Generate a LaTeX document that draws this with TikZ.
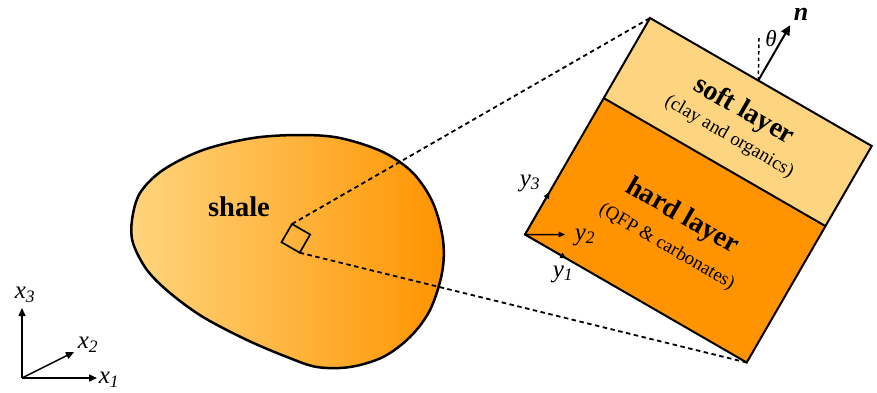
\documentclass[tikz,border=0pt]{standalone}
\usepackage{fontspec}
\setmainfont{Liberation Serif}
\usetikzlibrary{arrows.meta}
\definecolor{softc}{HTML}{FDD581}
\definecolor{hardc}{HTML}{FF9300}
\definecolor{blobl}{HTML}{FFD57E}
\definecolor{blobr}{HTML}{FF9400}
\newcommand\axlab[2]{#1\textsubscript{#2}}
\begin{document}
\begin{tikzpicture}[x=1pt,y=-1pt,
  axis/.style={line width=1.5pt,-{Triangle[length=8pt,width=7pt]}},
  dashline/.style={line width=1.8pt,dash pattern=on 4.5pt off 3.5pt},
  lbl/.style={font=\fontsize{25}{25}\selectfont\itshape, inner sep=0pt},
  title/.style={font=\fontsize{28}{28}\selectfont\bfseries, inner sep=0pt, transform shape},
  subt/.style={font=\fontsize{19}{19}\selectfont, inner sep=0pt, transform shape}]
\useasboundingbox (0,0) rectangle (877,392);

% shale body
\draw[line width=2.5pt, left color=blobl, right color=blobr]
  plot[smooth cycle, tension=0.55] coordinates {(300,135) (340,138) (383,152) (413,173) (433,203) (443,240) (442,273) (430,310) (410,337) (383,357) (350,367) (317,367) (287,357) (247,340) (203,317) (170,293) (147,270) (133,243) (132,220) (140,193) (163,170) (203,150) (253,138)};
\node[font=\fontsize{28.5}{28.5}\selectfont\bfseries, inner sep=0pt] (shale) at (239,207) {shale};

% small element
\begin{scope}[shift={(292,224)}, rotate=-30]
  \draw[line width=1.7pt] (0,0) coordinate (st) -- (21,0) coordinate (sr) -- (21,21) coordinate (sb) -- (0,21) coordinate (sl) -- cycle;
\end{scope}

% magnified element
\begin{scope}[shift={(650,18)}, rotate=-30]
  \coordinate (T) at (0,0);
  \coordinate (R) at (256,0);
  \coordinate (B) at (256,250);
  \coordinate (L) at (0,250);
  \coordinate (D1) at (0,92.5);
  \coordinate (D2) at (256,92.5);
  \fill[softc] (T) rectangle (D2);
  \fill[hardc] (D1) rectangle (B);
  \draw[line width=2pt, line join=miter] (T) -- (R) -- (B) -- (L) -- cycle;
  \draw[line width=2pt] (D1) -- (D2);
  \node[title] (soft) at (128,34) {soft layer};
  \node[subt] (softs) at (128,63.5) {(clay and organics)};
  \node[title] (hard) at (127,156) {hard layer};
  \node[subt] (hards) at (129,190) {(QFP \& carbonates)};
  \coordinate (nb) at (125,0);
  \coordinate (nt) at (125,-64);
  \draw[line width=2pt, -{Triangle[length=10pt,width=9pt]}] (nb) -- (nt);
  \coordinate (y3e) at (0,201);
  \coordinate (y1e) at (48,250);
  \draw[axis, -{Triangle[length=6.5pt,width=5.5pt]}] (L) -- (y3e);
  \draw[axis, -{Triangle[length=6.5pt,width=5.5pt]}] (L) -- (y1e);
\end{scope}
\coordinate (y2e) at (565,234.5);
\draw[axis, -{Triangle[length=6.5pt,width=5.5pt]}] (L) -- (y2e);
\node[lbl] (y3) at (530,183) {\axlab{y}{3}};
\node[lbl] (y2) at (585,237) {\axlab{y}{2}};
\node[lbl] (y1) at (563,274) {\axlab{y}{1}};

% normal and angle
\coordinate (vt) at (759,38);
\draw[line width=1.5pt, dash pattern=on 3.5pt off 3pt] (nb) -- (vt);
\node[lbl, font=\fontsize{23}{23}\selectfont\itshape] (theta) at (771,39) {θ};
\node[font=\fontsize{26}{26}\selectfont\bfseries\itshape, inner sep=0pt] (n) at (801,14) {n};

% dashed projection lines
\draw[dashline] (st) -- (T);
\draw[dashline] (sb) -- (B);

% global axes
\coordinate (O) at (22,378);
\coordinate (x3e) at (22,308);
\coordinate (x1e) at (97,378);
\coordinate (x2e) at (74,352);
\draw[axis] (O) -- (x3e);
\draw[axis] (O) -- (x1e);
\draw[axis] (O) -- (x2e);
\node[lbl] (x3) at (25,295) {\axlab{x}{3}};
\node[lbl] (x2) at (88,345) {\axlab{x}{2}};
\node[lbl] (x1) at (109,380) {\axlab{x}{1}};
\end{tikzpicture}
\end{document}
